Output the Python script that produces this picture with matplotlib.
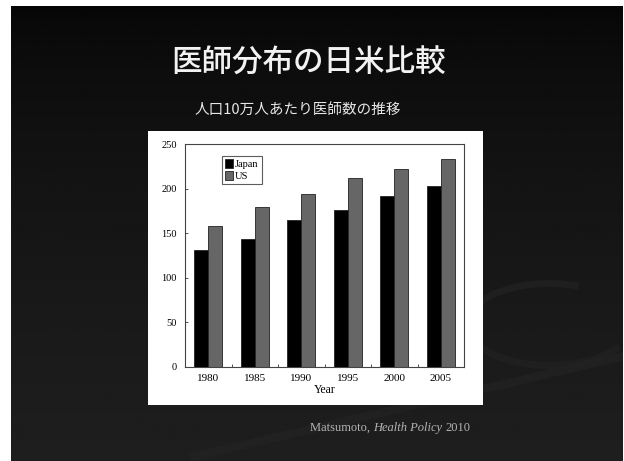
import numpy as np
import matplotlib
matplotlib.use('Agg')
import matplotlib.pyplot as plt
from matplotlib.patches import Rectangle

# ── Data ───────────────────────────────────────────────────────────────────────
years  = ['1980', '1985', '1990', '1995', '2000', '2005']
japan  = [131, 143, 165, 176, 192, 203]
us     = [158, 179, 194, 212, 222, 233]
yticks = [0, 50, 100, 150, 200, 250]

TITLE    = '医師分布の日米比較'
SUBTITLE = '人口10万人あたり医師数の推移'

W, H = 624, 461


def frac(x0, y0, x1, y1):
    """pixel box (top-left origin) -> figure fraction rect"""
    return [x0 / W, 1 - y1 / H, (x1 - x0) / W, (y1 - y0) / H]


fig = plt.figure(figsize=(W / 100, H / 100), dpi=100)
fig.patch.set_facecolor('white')

# ── Slide background ───────────────────────────────────────────────────────────
ax_bg = fig.add_axes(frac(11, 6, 623, 461))
ax_bg.set_axis_off()
grad = np.linspace(0, 1, 256) ** 0.6
grad = 0.02 + grad * (0.12 - 0.02)
ax_bg.imshow(np.tile(grad[:, None], (1, 4)), cmap='gray', vmin=0, vmax=1,
             aspect='auto', extent=[0, 1, 1, 0])
ax_bg.set_xlim(0, 1)
ax_bg.set_ylim(1, 0)
# faint swirl decorations
t = np.linspace(0, 1, 200)
ax_bg.plot(0.3 + 0.7 * t, 0.99 - 0.22 * t, color='#232323', lw=6, alpha=0.7)
th = np.linspace(0.2 * np.pi, 1.6 * np.pi, 200)
ax_bg.plot(0.88 + 0.15 * np.cos(th) * 0.9, 0.70 + 0.09 * np.sin(th),
           color='#222222', lw=5, alpha=0.7)

fig.text(308 / W, 1 - 63 / H, TITLE, color='#f2f2f2', fontsize=22,
         weight='medium', family=['Noto Sans CJK JP', 'DejaVu Sans'],
         ha='center', va='center')
fig.text(298 / W, 1 - 110 / H, SUBTITLE, color='#e6e6e6', fontsize=10.5,
         family=['Noto Sans CJK JP', 'DejaVu Sans'], ha='center', va='center')

# caption with italic journal name
cap_kw = dict(color='#b4b4b4', fontsize=9, family='Liberation Serif', va='baseline')
t1 = fig.text(310 / W, 1 - 431 / H, 'Matsumoto, ', **cap_kw)
t2 = fig.text(0, 1 - 431 / H, 'Health Policy', style='italic', **cap_kw)
fig.canvas.draw()
r = fig.canvas.get_renderer()
t2.set_x(t1.get_window_extent(r).x1 / W)
bb2 = t2.get_window_extent(r)
fig.text(bb2.x1 / W + 3 / W, 1 - 431 / H, '2010', **cap_kw)

# ── White chart panel ──────────────────────────────────────────────────────────
fig.patches.append(Rectangle((148 / W, 1 - 405 / H), 335 / W, 274 / H,
                             transform=fig.transFigure, facecolor='white',
                             edgecolor='none', zorder=1))

ax = fig.add_axes(frac(185, 144, 464, 367))
ax.set_zorder(2)
ax.set_facecolor('white')

x  = np.arange(len(years))
bw = 0.3
ax.bar(x - bw / 2, japan, bw, color='black', edgecolor='#222222', linewidth=0.6,
       label='Japan')
ax.bar(x + bw / 2, us, bw, color='#666666', edgecolor='#222222', linewidth=0.6,
       label='US')

ax.set_xlim(-0.5, len(years) - 0.5)
ax.set_ylim(0, 250)
ax.set_yticks(yticks)
ax.set_yticklabels([str(v) for v in yticks], family='Liberation Serif', fontsize=7.5)
ax.set_xticks(x[:-1] + 0.5)
ax.set_xticklabels([])
ax.set_xticks(x, minor=True)
ax.set_xticklabels(years, minor=True, family='Liberation Serif', fontsize=8)
ax.tick_params(axis='x', which='minor', length=0, pad=5)
ax.tick_params(axis='both', which='major', direction='in', length=2.5,
               width=0.6, color='#333333')
ax.tick_params(axis='y', pad=6)
ax.set_xlabel('Year', family='Liberation Serif', fontsize=8.5, labelpad=1)
for sp in ax.spines.values():
    sp.set_color('#444444')
    sp.set_linewidth(0.8)

leg = ax.legend(loc='upper left', bbox_to_anchor=(0.133, 0.946), borderaxespad=0,
                prop={'family': 'Liberation Serif', 'size': 7.5}, fancybox=False,
                handlelength=0.7, handleheight=0.9, handletextpad=0.25,
                borderpad=0.3, labelspacing=0.2)
leg.get_frame().set_edgecolor('#333333')
leg.get_frame().set_linewidth(0.8)

fig.savefig('out.png', dpi=100, facecolor=fig.get_facecolor())
